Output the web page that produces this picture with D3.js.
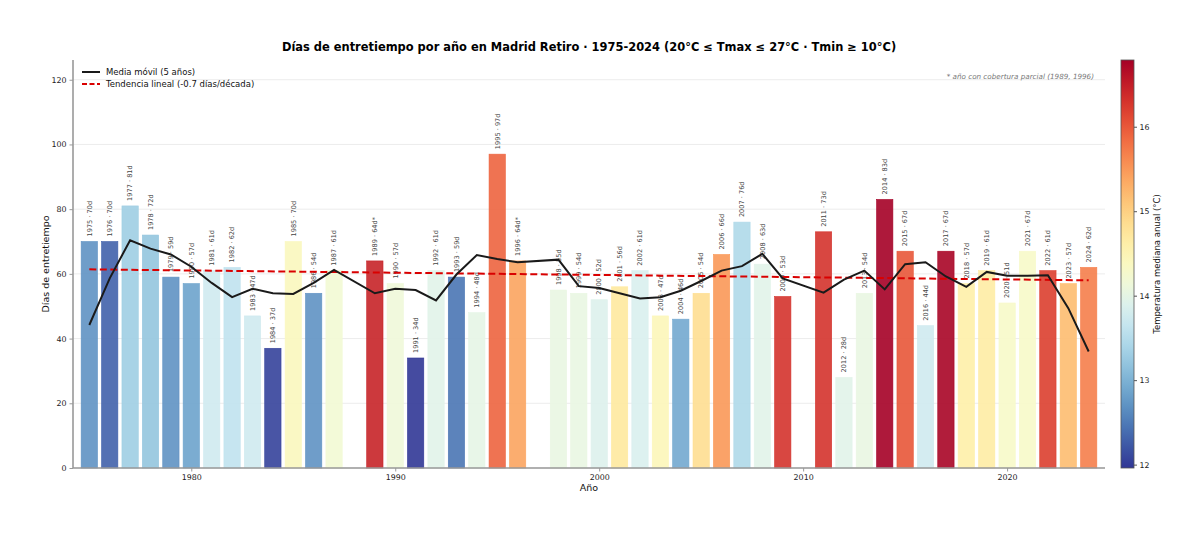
<!DOCTYPE html>
<html>
<head>
<meta charset="utf-8">
<script src="https://cdn.jsdelivr.net/npm/d3@7"></script>
<style>
  body { margin: 0; background: #fff; font-family: "DejaVu Sans", sans-serif; }
</style>
</head>
<body>
<svg id="chart" width="1200" height="534"></svg>
<script>
const years = [1975, 1976, 1977, 1978, 1979, 1980, 1981, 1982, 1983, 1984, 1985, 1986, 1987,
    1989, 1990, 1991, 1992, 1993, 1994, 1995, 1996, 1998, 1999, 2000, 2001, 2002, 2003, 2004,
    2005, 2006, 2007, 2008, 2009, 2011, 2012, 2013, 2014, 2015, 2016, 2017, 2018, 2019, 2020,
    2021, 2022, 2023, 2024];
const days = [70, 70, 81, 72, 59, 57, 61, 62, 47, 37, 70, 54, 61,
    64, 57, 34, 61, 59, 48, 97, 64, 55, 54, 52, 56, 61, 47, 46,
    54, 66, 76, 63, 53, 73, 28, 54, 83, 67, 44, 67, 57, 61, 51,
    67, 61, 57, 62];
// median annual temperature
const temps = [12.7, 12.3, 13.3, 13.2, 12.7, 12.85, 13.75, 13.6, 13.75, 12.05, 14.4, 12.7, 14.2,
    16.45, 14.15, 11.97, 13.95, 12.45, 14.0, 15.9, 15.4, 14.05, 14.05, 13.9, 14.7, 13.85, 14.45, 12.9,
    14.85, 15.5, 13.45, 13.95, 16.3, 16.3, 13.95, 14.05, 16.79, 16.0, 13.75, 16.75, 14.6, 14.65, 14.3,
    14.3, 16.2, 15.2, 15.7];
const partial = [1989, 1996];
const movingAvg = [44.2, 58.6, 70.4, 67.8, 66.0, 62.2, 57.2, 52.8, 55.4, 54.0, 53.8, 57.2, 61.2,
    54.0, 55.4, 55.0, 51.8, 59.8, 65.8, 64.6, 63.6, 64.4, 56.2, 55.6, 54.0, 52.4, 52.8, 54.8,
    57.8, 61.0, 62.4, 66.2, 58.6, 54.2, 58.2, 61.0, 55.2, 63.0, 63.6, 59.2, 56.0, 60.6, 59.4,
    59.4, 59.6, 49.4, 36.0];
const trendYears = [1975, 2024];
const trendDays = [61.4, 58.0];
const yTicks = [0, 20, 40, 60, 80, 100, 120];
const xTicks = [1980, 1990, 2000, 2010, 2020];
const cbTicks = [12, 13, 14, 15, 16];

const svg = d3.select("#chart");
const margin = { top: 60, left: 73 };
const innerW = 1105 - margin.left;
const innerH = 468 - margin.top;

const x = d3.scaleLinear().domain([1974.2, 2024.8]).range([0, innerW]);
const y = d3.scaleLinear().domain([0, 126.1]).range([innerH, 0]);
const color = d3.scaleSequential(t => d3.interpolateRdYlBu(1 - t)).domain([11.96, 16.79]);

const g = svg.append("g").attr("transform", `translate(${margin.left},${margin.top})`);

// grid
g.append("g").selectAll("line").data(yTicks).join("line")
    .attr("x1", 0).attr("x2", innerW)
    .attr("y1", d => y(d)).attr("y2", d => y(d))
    .attr("stroke", "#ececec").attr("stroke-width", 1);

// bars
const bw = x(1975.4) - x(1974.6);
const rows = years.map((yr, i) => ({ year: yr, days: days[i], temp: temps[i] }));
g.append("g").selectAll("rect").data(rows).join("rect")
    .attr("x", d => x(d.year) - bw / 2)
    .attr("y", d => y(d.days))
    .attr("width", bw)
    .attr("height", d => y(0) - y(d.days))
    .attr("fill", d => color(d.temp))
    .attr("fill-opacity", 0.9)
    .attr("stroke", d => color(d.temp))
    .attr("stroke-width", 0.6);

// bar labels
g.append("g").selectAll("text").data(rows).join("text")
    .attr("transform", d => `translate(${x(d.year) + 2.3},${y(d.days) - 5}) rotate(-90)`)
    .attr("font-size", 6.6)
    .attr("fill", "#444")
    .text(d => `${d.year} · ${d.days}d${partial.includes(d.year) ? "*" : ""}`);

// trend line
g.append("path")
    .datum(trendYears.map((yr, i) => [yr, trendDays[i]]))
    .attr("d", d3.line().x(d => x(d[0])).y(d => y(d[1])))
    .attr("fill", "none")
    .attr("stroke", "#d90000")
    .attr("stroke-width", 2)
    .attr("stroke-dasharray", "7,3.5");

// moving average
g.append("path")
    .datum(years.map((yr, i) => [yr, movingAvg[i]]))
    .attr("d", d3.line().x(d => x(d[0])).y(d => y(d[1])))
    .attr("fill", "none")
    .attr("stroke", "#1a1a1a")
    .attr("stroke-width", 2);

// axes
const yAxis = g.append("g")
    .call(d3.axisLeft(y).tickValues(yTicks).tickSize(3.5).tickPadding(3));
const xAxis = g.append("g")
    .attr("transform", `translate(0,${innerH})`)
    .call(d3.axisBottom(x).tickValues(xTicks).tickFormat(d3.format("d")).tickSize(3.5).tickPadding(3));
[yAxis, xAxis].forEach(a => {
    a.select(".domain").attr("stroke", "#999").attr("stroke-width", 1.6);
    a.selectAll(".tick line").attr("stroke", "#999");
    a.selectAll("text").attr("font-size", 7.9).attr("fill", "#222")
        .attr("font-family", "DejaVu Sans, sans-serif");
});
xAxis.select(".domain").attr("d", `M0,0H${innerW}`);
yAxis.select(".domain").attr("d", `M0,${innerH}V0`);

// axis titles
svg.append("text")
    .attr("x", margin.left + innerW / 2).attr("y", 491)
    .attr("text-anchor", "middle").attr("font-size", 9.5).attr("fill", "#111")
    .text("Año");
svg.append("text")
    .attr("transform", `translate(49,${margin.top + innerH / 2}) rotate(-90)`)
    .attr("text-anchor", "middle").attr("font-size", 9.5).attr("fill", "#111")
    .text("Días de entretiempo");

// title
svg.append("text")
    .attr("x", margin.left + innerW / 2).attr("y", 51)
    .attr("text-anchor", "middle").attr("font-size", 11.45).attr("font-weight", "bold")
    .attr("fill", "#000")
    .text("Días de entretiempo por año en Madrid Retiro · 1975-2024 (20°C ≤ Tmax ≤ 27°C · Tmin ≥ 10°C)");

// note
g.append("text")
    .attr("x", innerW - 11).attr("y", 19)
    .attr("text-anchor", "end").attr("font-size", 7.2).attr("font-style", "italic")
    .attr("fill", "#777")
    .text("* año con cobertura parcial (1989, 1996)");

// legend
const legend = g.append("g").attr("transform", "translate(9,12)");
legend.append("line").attr("x1", 0).attr("x2", 18).attr("y1", 0).attr("y2", 0)
    .attr("stroke", "#1a1a1a").attr("stroke-width", 2);
legend.append("text").attr("x", 24).attr("y", 3).attr("font-size", 8.5).attr("fill", "#111")
    .text("Media móvil (5 años)");
legend.append("line").attr("x1", 0).attr("x2", 18).attr("y1", 12).attr("y2", 12)
    .attr("stroke", "#d90000").attr("stroke-width", 2).attr("stroke-dasharray", "5,2.5");
legend.append("text").attr("x", 24).attr("y", 15).attr("font-size", 8.5).attr("fill", "#111")
    .text("Tendencia lineal (-0.7 días/década)");

// colorbar
const cbX = 1121, cbW = 13;
const cbScale = d3.scaleLinear().domain(color.domain()).range([468, 60]);
const defs = svg.append("defs");
const grad = defs.append("linearGradient").attr("id", "cb-grad")
    .attr("x1", "0%").attr("x2", "0%").attr("y1", "100%").attr("y2", "0%");
grad.selectAll("stop").data(d3.range(0, 1.0001, 0.05)).join("stop")
    .attr("offset", d => `${d * 100}%`)
    .attr("stop-color", d => d3.interpolateRdYlBu(1 - d));
svg.append("rect")
    .attr("x", cbX).attr("y", 60).attr("width", cbW).attr("height", 408)
    .attr("fill", "url(#cb-grad)").attr("stroke", "#555").attr("stroke-width", 0.8);
const cbAxis = svg.append("g")
    .attr("transform", `translate(${cbX + cbW},0)`)
    .call(d3.axisRight(cbScale).tickValues(cbTicks).tickFormat(d3.format("d")).tickSize(3).tickPadding(2.5));
cbAxis.select(".domain").remove();
cbAxis.selectAll(".tick line").attr("stroke", "#555");
cbAxis.selectAll("text").attr("font-size", 7.8).attr("fill", "#222")
    .attr("font-family", "DejaVu Sans, sans-serif");
svg.append("text")
    .attr("transform", `translate(1160,264) rotate(-90)`)
    .attr("text-anchor", "middle").attr("font-size", 8.5).attr("fill", "#111")
    .text("Temperatura mediana anual (°C)");
</script>
</body>
</html>
